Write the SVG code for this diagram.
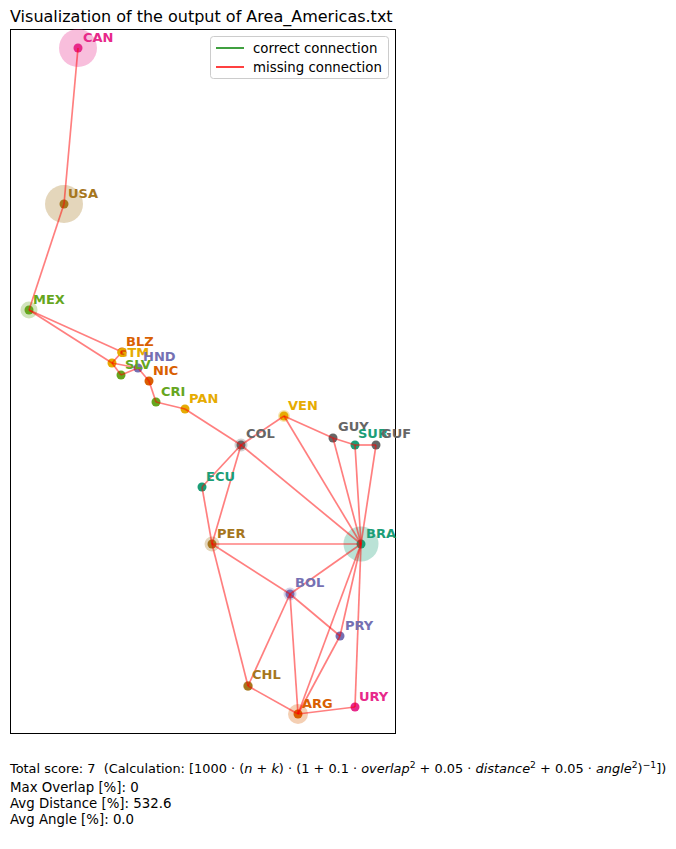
<svg xmlns="http://www.w3.org/2000/svg" width="676" height="849" viewBox="0 0 676 849">
<style>
text{font-family:"DejaVu Sans",sans-serif}
.t{font-size:16px;fill:#000}
.lg{font-size:13.33px;fill:#000}
.ft{font-size:13.33px;fill:#000}
.f1{font-size:12.9px;fill:#000}
.sp{font-size:9.2px}
.lb{font-size:13px;font-weight:bold}
.e{stroke:#ff0000;stroke-opacity:0.5;stroke-width:1.7;fill:none}
.h{opacity:0.3}
.i{font-style:italic}
.teal{fill:#1b9e77}.orng{fill:#d95f02}.purp{fill:#7570b3}.pink{fill:#e7298a}
.grn{fill:#66a61e}.yel{fill:#e6ab02}.tan{fill:#a6761d}.gry{fill:#666666}
</style>
<rect width="676" height="849" fill="#ffffff"/>
<text class="t" x="10" y="22">Visualization of the output of Area_Americas.txt</text>
<rect x="10.5" y="29.5" width="385" height="704" fill="none" stroke="#000" stroke-width="1"/>

<g id="halos">
<circle class="h pink" cx="78" cy="48" r="19"/>
<circle class="h tan" cx="64" cy="204" r="19"/>
<circle class="h grn" cx="29" cy="310" r="8.5"/>
<circle class="h teal" cx="361" cy="544" r="17.5"/>
<circle class="h orng" cx="298" cy="714" r="10"/>
<circle class="h tan" cx="212" cy="544" r="7.5"/>
<circle class="h purp" cx="290" cy="594" r="6.5"/>
<circle class="h gry" cx="241" cy="445" r="6.5"/>
<circle class="h yel" cx="284" cy="416" r="6"/>
<circle class="h tan" cx="248" cy="686" r="5"/>
</g>

<g id="nodes">
<g id="CAN"><circle class="pink" cx="78" cy="48" r="4.5"/></g>
<g id="USA"><circle class="tan" cx="64" cy="204" r="4.5"/></g>
<g id="MEX"><circle class="grn" cx="29" cy="310" r="4.5"/></g>
<g id="BLZ"><circle class="orng" cx="122" cy="352" r="4.5"/></g>
<g id="GTM"><circle class="yel" cx="112" cy="363" r="4.5"/></g>
<g id="HND"><circle class="purp" cx="138" cy="368" r="4.5"/></g>
<g id="SLV"><circle class="grn" cx="121" cy="375" r="4.5"/></g>
<g id="NIC"><circle class="orng" cx="149" cy="381" r="4.5"/></g>
<g id="CRI"><circle class="grn" cx="156" cy="402" r="4.5"/></g>
<g id="PAN"><circle class="yel" cx="185" cy="409" r="4.5"/></g>
<g id="VEN"><circle class="yel" cx="284" cy="416" r="4.5"/></g>
<g id="COL"><circle class="gry" cx="241" cy="445" r="4.5"/></g>
<g id="GUY"><circle class="gry" cx="333" cy="438" r="4.5"/></g>
<g id="SUR"><circle class="teal" cx="355" cy="445" r="4.5"/></g>
<g id="GUF"><circle class="gry" cx="376" cy="445" r="4.5"/></g>
<g id="ECU"><circle class="teal" cx="202" cy="487" r="4.5"/></g>
<g id="PER"><circle class="tan" cx="212" cy="544" r="4.5"/></g>
<g id="BRA"><circle class="teal" cx="361" cy="544" r="4.5"/></g>
<g id="BOL"><circle class="purp" cx="290" cy="594" r="4.5"/></g>
<g id="PRY"><circle class="purp" cx="340" cy="636" r="4.5"/></g>
<g id="CHL"><circle class="tan" cx="248" cy="686" r="4.5"/></g>
<g id="ARG"><circle class="orng" cx="298" cy="714" r="4.5"/></g>
<g id="URY"><circle class="pink" cx="355" cy="707" r="4.5"/></g>
</g>

<g id="connectors">
<line class="e" x1="78" y1="48" x2="64" y2="204"/>
<line class="e" x1="64" y1="204" x2="29" y2="310"/>
<line class="e" x1="29" y1="310" x2="122" y2="352"/>
<line class="e" x1="29" y1="310" x2="112" y2="363"/>
<line class="e" x1="122" y1="352" x2="112" y2="363"/>
<line class="e" x1="112" y1="363" x2="121" y2="375"/>
<line class="e" x1="112" y1="363" x2="138" y2="368"/>
<line class="e" x1="121" y1="375" x2="138" y2="368"/>
<line class="e" x1="138" y1="368" x2="149" y2="381"/>
<line class="e" x1="149" y1="381" x2="156" y2="402"/>
<line class="e" x1="156" y1="402" x2="185" y2="409"/>
<line class="e" x1="185" y1="409" x2="241" y2="445"/>
<line class="e" x1="241" y1="445" x2="284" y2="416"/>
<line class="e" x1="241" y1="445" x2="202" y2="487"/>
<line class="e" x1="241" y1="445" x2="212" y2="544"/>
<line class="e" x1="241" y1="445" x2="361" y2="544"/>
<line class="e" x1="284" y1="416" x2="333" y2="438"/>
<line class="e" x1="284" y1="416" x2="361" y2="544"/>
<line class="e" x1="333" y1="438" x2="355" y2="445"/>
<line class="e" x1="333" y1="438" x2="361" y2="544"/>
<line class="e" x1="355" y1="445" x2="376" y2="445"/>
<line class="e" x1="355" y1="445" x2="361" y2="544"/>
<line class="e" x1="376" y1="445" x2="361" y2="544"/>
<line class="e" x1="202" y1="487" x2="212" y2="544"/>
<line class="e" x1="212" y1="544" x2="361" y2="544"/>
<line class="e" x1="212" y1="544" x2="290" y2="594"/>
<line class="e" x1="212" y1="544" x2="248" y2="686"/>
<line class="e" x1="361" y1="544" x2="290" y2="594"/>
<line class="e" x1="361" y1="544" x2="340" y2="636"/>
<line class="e" x1="361" y1="544" x2="298" y2="714"/>
<line class="e" x1="361" y1="544" x2="355" y2="707"/>
<line class="e" x1="290" y1="594" x2="340" y2="636"/>
<line class="e" x1="290" y1="594" x2="248" y2="686"/>
<line class="e" x1="290" y1="594" x2="298" y2="714"/>
<line class="e" x1="340" y1="636" x2="298" y2="714"/>
<line class="e" x1="248" y1="686" x2="298" y2="714"/>
<line class="e" x1="298" y1="714" x2="355" y2="707"/>
</g>

<g id="labels">
<text class="lb pink" x="83" y="42">CAN</text>
<text class="lb tan" x="68" y="198">USA</text>
<text class="lb grn" x="33" y="304">MEX</text>
<text class="lb orng" x="126" y="346">BLZ</text>
<text class="lb yel" x="117" y="357">GTM</text>
<text class="lb purp" x="143" y="361">HND</text>
<text class="lb grn" x="125" y="369">SLV</text>
<text class="lb orng" x="153" y="375">NIC</text>
<text class="lb grn" x="161" y="396">CRI</text>
<text class="lb yel" x="189" y="403">PAN</text>
<text class="lb yel" x="288" y="410">VEN</text>
<text class="lb gry" x="246" y="438">COL</text>
<text class="lb gry" x="338" y="431">GUY</text>
<text class="lb teal" x="358" y="438">SUR</text>
<text class="lb gry" x="381" y="438">GUF</text>
<text class="lb teal" x="206" y="481">ECU</text>
<text class="lb tan" x="217" y="538">PER</text>
<text class="lb teal" x="366" y="538">BRA</text>
<text class="lb purp" x="295" y="587">BOL</text>
<text class="lb purp" x="345" y="630">PRY</text>
<text class="lb tan" x="252" y="679">CHL</text>
<text class="lb orng" x="302" y="708">ARG</text>
<text class="lb pink" x="359" y="701">URY</text>
</g>

<g id="legend">
<rect x="210.5" y="36.5" width="178" height="42" rx="3" fill="#ffffff" fill-opacity="0.8" stroke="#cccccc"/>
<line x1="216" y1="48" x2="244" y2="48" stroke="#008000" stroke-width="1.5"/>
<text class="lg" x="253" y="52.5">correct connection</text>
<line x1="216" y1="67" x2="244" y2="67" stroke="#ff0000" stroke-width="1.5"/>
<text class="lg" x="253" y="71.5">missing connection</text>
</g>

<g id="footer">
<text class="f1" x="10" y="773">Total score: 7&#160; (Calculation: [1000 · (<tspan class="i">n</tspan> + <tspan class="i">k</tspan>) · (1 + 0.1 · <tspan class="i">overlap</tspan><tspan class="sp" dy="-5">2</tspan><tspan dy="5"> + 0.05 · </tspan><tspan class="i">distance</tspan><tspan class="sp" dy="-5">2</tspan><tspan dy="5"> + 0.05 · </tspan><tspan class="i">angle</tspan><tspan class="sp" dy="-5">2</tspan><tspan dy="5">)</tspan><tspan class="sp" dy="-5">−1</tspan><tspan dy="5">])</tspan></text>
<text class="ft" x="10" y="792">Max Overlap [%]: 0</text>
<text class="ft" x="10" y="808">Avg Distance [%]: 532.6</text>
<text class="ft" x="10" y="824">Avg Angle [%]: 0.0</text>
</g>
</svg>
